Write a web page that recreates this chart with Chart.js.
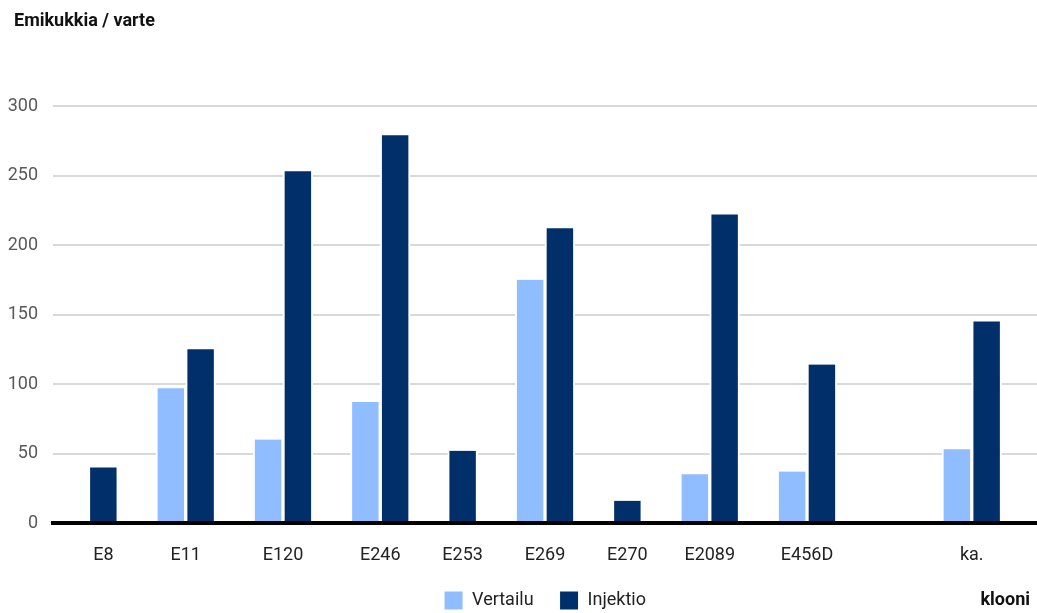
<!DOCTYPE html>
<html>
<head>
<meta charset="utf-8">
<script src="https://cdn.jsdelivr.net/npm/chart.js@4.4.1/dist/chart.umd.min.js"></script>
<style>
  html, body { margin: 0; padding: 0; background: #fff; }
  #wrap { width: 1037px; height: 613px; }
</style>
</head>
<body>
<div id="wrap"><canvas id="myChart" width="1037" height="613"></canvas></div>
<script>
// Data
const categories = ['E8', 'E11', 'E120', 'E246', 'E253', 'E269', 'E270', 'E2089', 'E456D', '', 'ka.'];
const vertailu = [null, 97, 60, 87, null, 175, null, 35, 37, null, 53];
const injektio = [40, 125, 253, 279, 52, 212, 16, 222, 114, null, 145];
const yTicks = [0, 50, 100, 150, 200, 250, 300];

const FONT = "Roboto, 'Liberation Sans', sans-serif";
const LIGHT = '#8fbdff';
const DARK = '#002f6a';

// Bars of a group sit side by side, missing values take no room.
// Units below are bar widths.
const GROUP_GAP = 1.265;
const EDGE = 1.19;

const vertPts = [];
const injPts = [];
const groupCenters = [];
let cursor = EDGE;
categories.forEach((c, i) => {
    const present = [[vertailu, vertPts], [injektio, injPts]].filter(([arr]) => arr[i] != null);
    const slots = Math.max(present.length, 1);
    groupCenters.push(cursor + slots / 2);
    present.forEach(([arr, out], k) => out.push({ x: cursor + k + 0.5, y: arr[i] }));
    cursor += slots + GROUP_GAP;
});
const xMax = cursor - GROUP_GAP + EDGE;

// axis names: value axis name top left, category axis name on the legend row
const axisNamePlugin = {
    id: 'axisNames',
    afterDraw(chart) {
        const { ctx, chartArea, legend } = chart;
        const box = legend.legendHitBoxes[0];
        const y = box ? box.top + box.height / 2 : chartArea.bottom + 77;
        ctx.save();
        ctx.font = 'bold 18px ' + FONT;
        ctx.fillStyle = '#111';
        ctx.textBaseline = 'middle';
        ctx.textAlign = 'left';
        ctx.fillText('Emikukkia / varte', 14, 21);
        ctx.textAlign = 'right';
        ctx.fillText('klooni', chartArea.right - 7, y);
        ctx.restore();
    }
};

Chart.defaults.font.family = FONT;

const barStyle = {
    borderColor: '#ffffff',
    borderWidth: { left: 2, right: 2, top: 0, bottom: 0 },
    grouped: false,
    barPercentage: 1,
    categoryPercentage: 1
};

new Chart(document.getElementById('myChart').getContext('2d'), {
    type: 'bar',
    data: {
        datasets: [
            Object.assign({ label: 'Vertailu', data: vertPts, backgroundColor: LIGHT }, barStyle),
            Object.assign({ label: 'Injektio', data: injPts, backgroundColor: DARK }, barStyle)
        ]
    },
    options: {
        responsive: false,
        animation: false,
        devicePixelRatio: 1,
        layout: { padding: { left: 0, right: 0, top: 106, bottom: -7 } },
        plugins: {
            legend: {
                position: 'bottom',
                fullSize: false,
                labels: {
                    color: '#222',
                    font: { size: 18 },
                    boxWidth: 19,
                    boxHeight: 19,
                    padding: 26
                }
            },
            tooltip: { enabled: false }
        },
        scales: {
            x: {
                type: 'linear',
                min: 0,
                max: xMax,
                offset: false,
                grid: { display: true, drawOnChartArea: false, drawTicks: false, offset: false },
                border: { display: true, color: '#000', width: 4, z: 1 },
                afterBuildTicks: (scale) => {
                    scale.ticks = groupCenters.map(v => ({ value: v }));
                },
                afterFit: (scale) => { scale.height = 42; },
                ticks: {
                    autoSkip: false,
                    maxRotation: 0,
                    padding: 22,
                    color: '#222',
                    font: { size: 18 },
                    callback: (value, index) => categories[index]
                }
            },
            y: {
                min: yTicks[0],
                max: yTicks[yTicks.length - 1],
                grid: { color: '#d9d9d9', lineWidth: 2, drawTicks: false },
                border: { display: false },
                afterFit: (scale) => { scale.width = 53; },
                ticks: {
                    stepSize: yTicks[1] - yTicks[0],
                    padding: 15,
                    color: '#595959',
                    font: { size: 18 }
                }
            }
        }
    },
    plugins: [axisNamePlugin]
});
</script>
</body>
</html>
